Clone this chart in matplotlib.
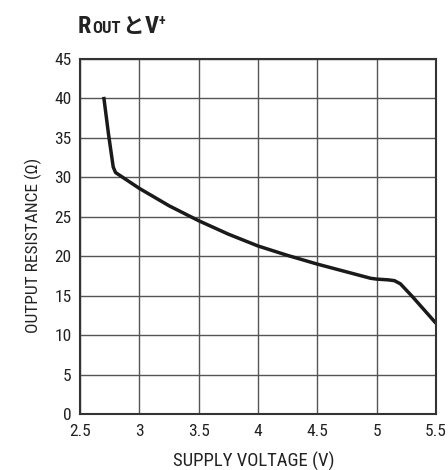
import numpy as np
import matplotlib.pyplot as plt

# curve
voltage = [2.70, 2.74, 2.78, 2.80, 2.83, 2.9, 3.0, 3.25, 3.5, 3.75, 4.0, 4.25, 4.5, 4.75, 4.95, 5.0, 5.1, 5.15, 5.2, 5.3, 5.4, 5.5]
resistance = [40.2, 35.5, 31.3, 30.6, 30.3, 29.6, 28.6, 26.4, 24.5, 22.8, 21.3, 20.1, 19.0, 18.0, 17.2, 17.1, 17.0, 16.9, 16.5, 14.9, 13.2, 11.5]

xticks = [2.5, 3, 3.5, 4, 4.5, 5, 5.5]
xticklabels = ['2.5', '3', '3.5', '4', '4.5', '5', '5.5']
yticks = [0, 5, 10, 15, 20, 25, 30, 35, 40, 45]

font = ['Roboto Condensed', 'Noto Sans CJK JP', 'DejaVu Sans']
plt.rcParams['font.family'] = font
ink = '#222222'

fig = plt.figure(figsize=(4.48, 4.70), dpi=100)
ax = fig.add_axes([80 / 448, 1 - 414 / 470, 356 / 448, 355 / 470])

ax.plot(voltage, resistance, color='#1a1a1a', linewidth=2.5, solid_capstyle='butt')

ax.set_xlim(2.5, 5.5)
ax.set_ylim(0, 45)
ax.set_xticks(xticks)
ax.set_xticklabels(xticklabels)
ax.set_yticks(yticks)
ax.tick_params(length=0, labelsize=12.5, colors=ink)
ax.tick_params(axis='x', pad=7)
ax.tick_params(axis='y', pad=6)
ax.grid(True, color='#555555', linewidth=1)
for s in ax.spines.values():
    s.set_linewidth(1.5)
    s.set_color('#333333')

fig.text(254 / 448, 1 - 461 / 470, 'SUPPLY VOLTAGE (V)', ha='center', va='center', fontsize=13.5, color=ink)
fig.text(33 / 448, 1 - 245 / 470, 'OUTPUT RESISTANCE (Ω)', ha='center', va='center', rotation=90, fontsize=12.5, color=ink)

# title pieces laid out left to right: R, small OUT, と, V, superscript +
pieces = [('R', 17.5, 0, 0), ('OUT', 12, 0, 0.5), ('と', 15.5, 0, 2), ('V', 17.5, 0, 1), ('+', 10, 8, 0)]
renderer = fig.canvas.get_renderer()
x = 78
for txt, size, rise, gap in pieces:
    x += gap
    t = fig.text(x / 448, 1 - (33 - rise) / 470, txt, fontsize=size, fontweight='bold',
                 va='baseline', ha='left', color=ink)
    x = t.get_window_extent(renderer).x1

fig.savefig('out.png', dpi=100)
